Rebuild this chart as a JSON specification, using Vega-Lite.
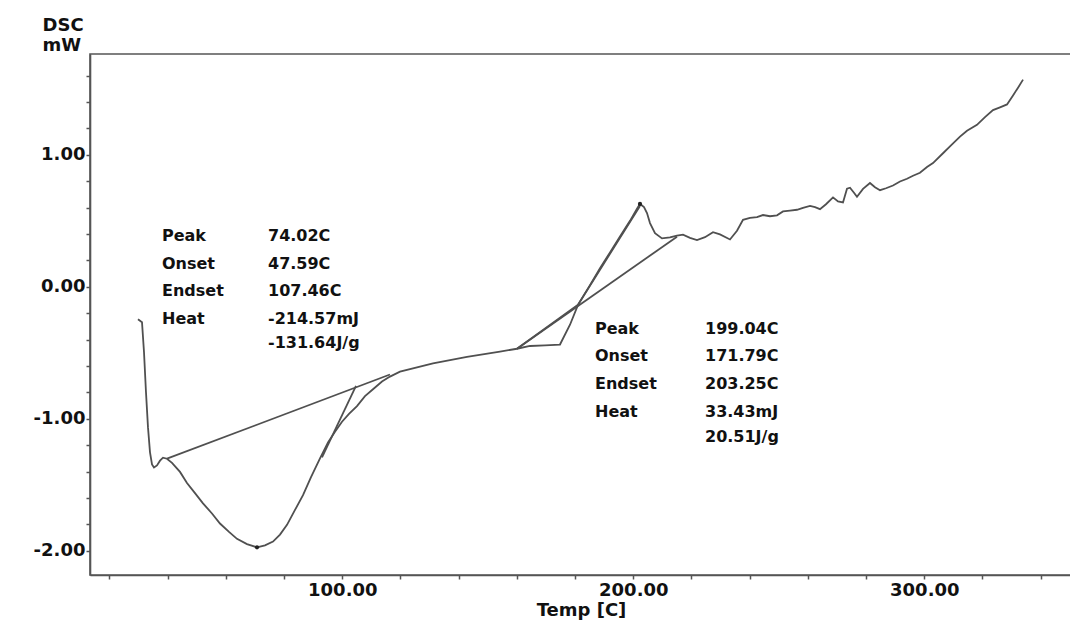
{
  "$schema": "https://vega.github.io/schema/vega-lite/v6.json",
  "width": 982,
  "height": 521,
  "autosize": "none",
  "padding": {"left": 90, "top": 54, "right": 0, "bottom": 53},
  "background": "white",
  "config": {"view": {"stroke": "#555555", "strokeWidth": 1.6}, "font": "DejaVu Sans"},
  "resolve": {"axis": {"y": "independent"}},
  "datasets": {
    "curves": [
      {"seg": "curve", "i": 1, "T": 29.79, "Y": -0.245},
      {"seg": "curve", "i": 2, "T": 31.17, "Y": -0.268},
      {"seg": "curve", "i": 3, "T": 31.86, "Y": -0.495},
      {"seg": "curve", "i": 4, "T": 32.54, "Y": -0.799},
      {"seg": "curve", "i": 5, "T": 33.23, "Y": -1.065},
      {"seg": "curve", "i": 6, "T": 33.92, "Y": -1.254},
      {"seg": "curve", "i": 7, "T": 34.61, "Y": -1.345},
      {"seg": "curve", "i": 8, "T": 35.29, "Y": -1.368},
      {"seg": "curve", "i": 9, "T": 36.32, "Y": -1.353},
      {"seg": "curve", "i": 10, "T": 37.36, "Y": -1.317},
      {"seg": "curve", "i": 11, "T": 38.39, "Y": -1.294},
      {"seg": "curve", "i": 12, "T": 39.76, "Y": -1.302},
      {"seg": "curve", "i": 13, "T": 41.48, "Y": -1.333},
      {"seg": "curve", "i": 14, "T": 44.23, "Y": -1.402},
      {"seg": "curve", "i": 15, "T": 46.63, "Y": -1.486},
      {"seg": "curve", "i": 16, "T": 49.38, "Y": -1.563},
      {"seg": "curve", "i": 17, "T": 52.13, "Y": -1.640},
      {"seg": "curve", "i": 18, "T": 55.22, "Y": -1.717},
      {"seg": "curve", "i": 19, "T": 57.97, "Y": -1.793},
      {"seg": "curve", "i": 20, "T": 61.07, "Y": -1.856},
      {"seg": "curve", "i": 21, "T": 63.81, "Y": -1.909},
      {"seg": "curve", "i": 22, "T": 67.25, "Y": -1.949},
      {"seg": "curve", "i": 23, "T": 70.69, "Y": -1.973},
      {"seg": "curve", "i": 24, "T": 73.44, "Y": -1.959},
      {"seg": "curve", "i": 25, "T": 76.19, "Y": -1.930},
      {"seg": "curve", "i": 26, "T": 78.59, "Y": -1.877},
      {"seg": "curve", "i": 27, "T": 81.00, "Y": -1.803},
      {"seg": "curve", "i": 28, "T": 83.75, "Y": -1.690},
      {"seg": "curve", "i": 29, "T": 86.50, "Y": -1.578},
      {"seg": "curve", "i": 30, "T": 89.25, "Y": -1.442},
      {"seg": "curve", "i": 31, "T": 92.34, "Y": -1.300},
      {"seg": "curve", "i": 32, "T": 95.09, "Y": -1.179},
      {"seg": "curve", "i": 33, "T": 97.49, "Y": -1.097},
      {"seg": "curve", "i": 34, "T": 99.90, "Y": -1.022},
      {"seg": "curve", "i": 35, "T": 102.30, "Y": -0.963},
      {"seg": "curve", "i": 36, "T": 105.05, "Y": -0.903},
      {"seg": "curve", "i": 37, "T": 107.80, "Y": -0.828},
      {"seg": "curve", "i": 38, "T": 110.55, "Y": -0.776},
      {"seg": "curve", "i": 39, "T": 113.64, "Y": -0.717},
      {"seg": "curve", "i": 40, "T": 116.39, "Y": -0.680},
      {"seg": "curve", "i": 41, "T": 119.83, "Y": -0.643},
      {"seg": "curve", "i": 42, "T": 131.17, "Y": -0.580},
      {"seg": "curve", "i": 43, "T": 142.85, "Y": -0.531},
      {"seg": "curve", "i": 44, "T": 154.19, "Y": -0.490},
      {"seg": "curve", "i": 45, "T": 160.03, "Y": -0.469},
      {"seg": "curve", "i": 46, "T": 164.50, "Y": -0.448},
      {"seg": "curve", "i": 47, "T": 169.66, "Y": -0.443},
      {"seg": "curve", "i": 48, "T": 174.81, "Y": -0.437},
      {"seg": "curve", "i": 49, "T": 178.25, "Y": -0.287},
      {"seg": "curve", "i": 50, "T": 181.00, "Y": -0.136},
      {"seg": "curve", "i": 51, "T": 185.12, "Y": 0.013},
      {"seg": "curve", "i": 52, "T": 188.56, "Y": 0.141},
      {"seg": "curve", "i": 53, "T": 192.00, "Y": 0.261},
      {"seg": "curve", "i": 54, "T": 195.43, "Y": 0.381},
      {"seg": "curve", "i": 55, "T": 198.87, "Y": 0.500},
      {"seg": "curve", "i": 56, "T": 201.27, "Y": 0.591},
      {"seg": "curve", "i": 57, "T": 202.30, "Y": 0.628},
      {"seg": "curve", "i": 58, "T": 203.68, "Y": 0.604},
      {"seg": "curve", "i": 59, "T": 204.71, "Y": 0.559},
      {"seg": "curve", "i": 60, "T": 205.74, "Y": 0.483},
      {"seg": "curve", "i": 61, "T": 207.46, "Y": 0.407},
      {"seg": "curve", "i": 62, "T": 209.86, "Y": 0.367},
      {"seg": "curve", "i": 63, "T": 212.61, "Y": 0.374},
      {"seg": "curve", "i": 64, "T": 215.02, "Y": 0.388},
      {"seg": "curve", "i": 65, "T": 217.08, "Y": 0.395},
      {"seg": "curve", "i": 66, "T": 219.49, "Y": 0.371},
      {"seg": "curve", "i": 67, "T": 221.89, "Y": 0.355},
      {"seg": "curve", "i": 68, "T": 224.64, "Y": 0.376},
      {"seg": "curve", "i": 69, "T": 227.39, "Y": 0.414},
      {"seg": "curve", "i": 70, "T": 229.79, "Y": 0.397},
      {"seg": "curve", "i": 71, "T": 233.23, "Y": 0.359},
      {"seg": "curve", "i": 72, "T": 235.64, "Y": 0.425},
      {"seg": "curve", "i": 73, "T": 237.70, "Y": 0.508},
      {"seg": "curve", "i": 74, "T": 240.11, "Y": 0.522},
      {"seg": "curve", "i": 75, "T": 242.51, "Y": 0.529},
      {"seg": "curve", "i": 76, "T": 244.57, "Y": 0.544},
      {"seg": "curve", "i": 77, "T": 246.98, "Y": 0.535},
      {"seg": "curve", "i": 78, "T": 249.39, "Y": 0.542},
      {"seg": "curve", "i": 79, "T": 251.45, "Y": 0.571},
      {"seg": "curve", "i": 80, "T": 253.85, "Y": 0.578},
      {"seg": "curve", "i": 81, "T": 256.26, "Y": 0.584},
      {"seg": "curve", "i": 82, "T": 258.32, "Y": 0.599},
      {"seg": "curve", "i": 83, "T": 260.73, "Y": 0.613},
      {"seg": "curve", "i": 84, "T": 262.45, "Y": 0.604},
      {"seg": "curve", "i": 85, "T": 264.16, "Y": 0.589},
      {"seg": "curve", "i": 86, "T": 266.22, "Y": 0.626},
      {"seg": "curve", "i": 87, "T": 268.63, "Y": 0.678},
      {"seg": "curve", "i": 88, "T": 270.35, "Y": 0.647},
      {"seg": "curve", "i": 89, "T": 272.06, "Y": 0.639},
      {"seg": "curve", "i": 90, "T": 273.44, "Y": 0.744},
      {"seg": "curve", "i": 91, "T": 274.47, "Y": 0.751},
      {"seg": "curve", "i": 92, "T": 275.84, "Y": 0.713},
      {"seg": "curve", "i": 93, "T": 276.87, "Y": 0.683},
      {"seg": "curve", "i": 94, "T": 278.94, "Y": 0.742},
      {"seg": "curve", "i": 95, "T": 281.34, "Y": 0.787},
      {"seg": "curve", "i": 96, "T": 283.06, "Y": 0.755},
      {"seg": "curve", "i": 97, "T": 284.78, "Y": 0.732},
      {"seg": "curve", "i": 98, "T": 286.84, "Y": 0.747},
      {"seg": "curve", "i": 99, "T": 289.25, "Y": 0.768},
      {"seg": "curve", "i": 100, "T": 291.65, "Y": 0.798},
      {"seg": "curve", "i": 101, "T": 294.06, "Y": 0.819},
      {"seg": "curve", "i": 102, "T": 296.12, "Y": 0.842},
      {"seg": "curve", "i": 103, "T": 298.52, "Y": 0.864},
      {"seg": "curve", "i": 104, "T": 300.93, "Y": 0.908},
      {"seg": "curve", "i": 105, "T": 302.99, "Y": 0.938},
      {"seg": "curve", "i": 106, "T": 306.43, "Y": 1.012},
      {"seg": "curve", "i": 107, "T": 308.83, "Y": 1.064},
      {"seg": "curve", "i": 108, "T": 312.27, "Y": 1.138},
      {"seg": "curve", "i": 109, "T": 314.68, "Y": 1.183},
      {"seg": "curve", "i": 110, "T": 318.11, "Y": 1.227},
      {"seg": "curve", "i": 111, "T": 320.86, "Y": 1.286},
      {"seg": "curve", "i": 112, "T": 323.61, "Y": 1.339},
      {"seg": "curve", "i": 113, "T": 326.02, "Y": 1.360},
      {"seg": "curve", "i": 114, "T": 328.43, "Y": 1.382},
      {"seg": "curve", "i": 115, "T": 330.49, "Y": 1.450},
      {"seg": "curve", "i": 116, "T": 332.21, "Y": 1.509},
      {"seg": "curve", "i": 117, "T": 333.93, "Y": 1.570},
      {"seg": "baseline1", "i": 1, "T": 39.76, "Y": -1.302},
      {"seg": "baseline1", "i": 2, "T": 116.39, "Y": -0.664},
      {"seg": "tangent1", "i": 1, "T": 93.03, "Y": -1.292},
      {"seg": "tangent1", "i": 2, "T": 104.71, "Y": -0.751},
      {"seg": "baseline2", "i": 1, "T": 160.03, "Y": -0.469},
      {"seg": "baseline2", "i": 2, "T": 215.02, "Y": 0.380},
      {"seg": "tangent2", "i": 1, "T": 160.03, "Y": -0.469},
      {"seg": "tangent2", "i": 2, "T": 181.00, "Y": -0.136},
      {"seg": "tangent2", "i": 3, "T": 202.30, "Y": 0.613}
    ],
    "peaks": [
      {"T": 70.69, "Y": -1.973},
      {"T": 202.30, "Y": 0.628}
    ],
    "notes": [
      {"T": 38.04, "Y": 0.383, "label": "Peak"},
      {"T": 38.04, "Y": 0.170, "label": "Onset"},
      {"T": 38.04, "Y": -0.034, "label": "Endset"},
      {"T": 38.04, "Y": -0.246, "label": "Heat"},
      {"T": 74.47, "Y": 0.383, "label": "74.02C"},
      {"T": 74.47, "Y": 0.170, "label": "47.59C"},
      {"T": 74.47, "Y": -0.034, "label": "107.46C"},
      {"T": 74.47, "Y": -0.246, "label": "-214.57mJ"},
      {"T": 74.47, "Y": -0.428, "label": "-131.64J/g"},
      {"T": 186.84, "Y": -0.322, "label": "Peak"},
      {"T": 186.84, "Y": -0.527, "label": "Onset"},
      {"T": 186.84, "Y": -0.739, "label": "Endset"},
      {"T": 186.84, "Y": -0.951, "label": "Heat"},
      {"T": 224.64, "Y": -0.322, "label": "199.04C"},
      {"T": 224.64, "Y": -0.527, "label": "171.79C"},
      {"T": 224.64, "Y": -0.739, "label": "203.25C"},
      {"T": 224.64, "Y": -0.951, "label": "33.43mJ"},
      {"T": 224.64, "Y": -1.140, "label": "20.51J/g"}
    ]
  },
  "layer": [
    {
      "data": {"name": "curves"},
      "mark": {"type": "line", "color": "#505050", "strokeWidth": 1.8},
      "encoding": {
        "x": {
          "field": "T",
          "type": "quantitative",
          "scale": {"domain": [13.3, 350.76], "nice": false, "zero": false},
          "axis": {
            "values": [20, 40, 60, 80, 100, 120, 140, 160, 180, 200, 220, 240, 260, 280, 300, 320, 340],
            "labelExpr": "datum.value % 100 === 0 ? datum.value + '.00' : ''",
            "labelOverlap": false,
            "labelFlush": false,
            "labelFontSize": 18,
            "labelFontWeight": "bold",
            "labelColor": "#111111",
            "labelPadding": 2,
            "tickSize": 4,
            "tickColor": "#555555",
            "tickWidth": 1.5,
            "domainColor": "#555555",
            "domainWidth": 1.6,
            "grid": false,
            "title": "Temp [C]",
            "titleFontSize": 18,
            "titleFontWeight": "bold",
            "titleColor": "#111111",
            "titlePadding": 2
          }
        },
        "y": {
          "field": "Y",
          "type": "quantitative",
          "scale": {"domain": [-2.183, 1.764], "nice": false, "zero": false},
          "axis": {
            "orient": "left",
            "values": [-2, -1.8, -1.6, -1.4, -1.2, -1, -0.8, -0.6, -0.4, -0.2, 0, 0.2, 0.4, 0.6, 0.8, 1, 1.2, 1.4, 1.6],
            "labels": false,
            "tickSize": 4,
            "tickColor": "#555555",
            "tickWidth": 1.5,
            "domainColor": "#555555",
            "domainWidth": 1.6,
            "grid": false,
            "title": ["DSC", "mW"],
            "titleAngle": 0,
            "titleAlign": "left",
            "titleBaseline": "top",
            "titleX": -48,
            "titleY": -38,
            "titleFontSize": 18,
            "titleFontWeight": "bold",
            "titleColor": "#111111",
            "titleLineHeight": 20
          }
        },
        "detail": {"field": "seg"},
        "order": {"field": "i", "type": "quantitative"}
      }
    },
    {
      "data": {"name": "peaks"},
      "mark": {"type": "point", "filled": true, "color": "#222222", "size": 18, "opacity": 1},
      "encoding": {
        "x": {"field": "T", "type": "quantitative"},
        "y": {
          "field": "Y",
          "type": "quantitative",
          "axis": {
            "orient": "left",
            "values": [-2, -1, 0, 1],
            "labelExpr": "datum.value + '.00'",
            "labelOverlap": false,
            "labelFlush": false,
            "labelFontSize": 18,
            "labelFontWeight": "bold",
            "labelColor": "#111111",
            "labelPadding": 5,
            "ticks": false,
            "domain": false,
            "grid": false,
            "title": null
          }
        }
      }
    },
    {
      "data": {"name": "notes"},
      "mark": {"type": "text", "align": "left", "baseline": "middle", "fontWeight": "bold", "fontSize": 16, "color": "#111111"},
      "encoding": {
        "x": {"field": "T", "type": "quantitative"},
        "y": {"field": "Y", "type": "quantitative", "axis": null},
        "text": {"field": "label"}
      }
    }
  ]
}
